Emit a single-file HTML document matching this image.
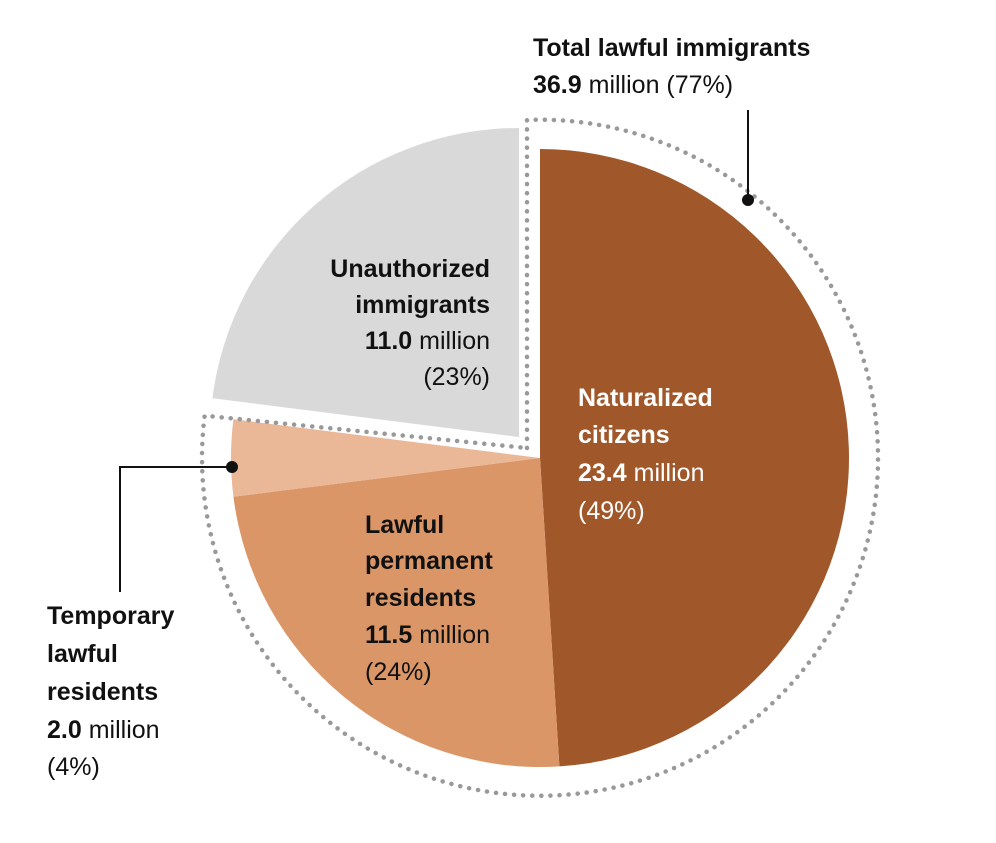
<!DOCTYPE html>
<html><head><meta charset="utf-8"><style>
body{margin:0;background:#fff;width:996px;height:838px;overflow:hidden}
svg text{font-family:"Liberation Sans",sans-serif;font-size:25px;fill:#111}
.b{font-weight:bold}
.w{fill:#fff}
</style></head><body>
<svg id="c" width="996" height="838" viewBox="0 0 996 838">
<g id="slices"></g>
<path id="dotted" fill="none" stroke="#999" stroke-width="4.5" stroke-dasharray="0.1 9" stroke-linecap="round"/>
<g>
<line x1="748" y1="110" x2="748" y2="200" stroke="#111" stroke-width="2"/>
<circle cx="748" cy="200" r="6" fill="#111"/>
<text x="533" y="56" class="b">Total lawful immigrants</text>
<text x="533" y="93"><tspan class="b">36.9</tspan> million (77%)</text>
</g>
<g>
<polyline points="232,467 120,467 120,592" fill="none" stroke="#111" stroke-width="2"/>
<circle cx="232" cy="467" r="6" fill="#111"/>
<text x="47" y="624" class="b">Temporary</text>
<text x="47" y="662" class="b">lawful</text>
<text x="47" y="700" class="b">residents</text>
<text x="47" y="738"><tspan class="b">2.0</tspan> million</text>
<text x="47" y="775">(4%)</text>
</g>
<g text-anchor="end">
<text x="490" y="277" class="b">Unauthorized</text>
<text x="490" y="313" class="b">immigrants</text>
<text x="490" y="349"><tspan class="b">11.0</tspan> million</text>
<text x="490" y="385">(23%)</text>
</g>
<g>
<text x="578" y="406" class="b w">Naturalized</text>
<text x="578" y="443" class="b w">citizens</text>
<text x="578" y="481" class="w"><tspan class="b">23.4</tspan> million</text>
<text x="578" y="519" class="w">(49%)</text>
</g>
<g>
<text x="365" y="533" class="b">Lawful</text>
<text x="365" y="569" class="b">permanent</text>
<text x="365" y="606" class="b">residents</text>
<text x="365" y="643"><tspan class="b">11.5</tspan> million</text>
<text x="365" y="680">(24%)</text>
</g>
</svg>
<script>
const categories=["naturalized-citizens","lawful-permanent-residents","temporary-lawful-residents","unauthorized-immigrants"];
const values=[49,24,4,23];
const colors=["#a0582a","#db9667","#eab797","#d9d9d9"];
const cx=540,cy=458,r=309;
const g=document.getElementById('slices');
const total=values.reduce((a,b)=>a+b,0);
function pt(a,rad,ox,oy){return [ox+rad*Math.sin(a),oy-rad*Math.cos(a)];}
let start=0;let lawfulEnd=0;
values.forEach((v,i)=>{
  const end=start+v/total*2*Math.PI;
  let ox=cx,oy=cy;
  if(i===3){ox=cx-21;oy=cy-21;}
  const p0=pt(start,r,ox,oy),p1=pt(end,r,ox,oy);
  const large=(end-start)>Math.PI?1:0;
  const p=document.createElementNS('http://www.w3.org/2000/svg','path');
  p.setAttribute('d',`M${ox},${oy}L${p0[0]},${p0[1]}A${r},${r} 0 ${large} 1 ${p1[0]},${p1[1]}Z`);
  p.setAttribute('fill',colors[i]);
  
  
  g.appendChild(p);
  if(i===2)lawfulEnd=end;
  start=end;
});
const rd=338;
const e=pt(lawfulEnd,rd,cx,cy);
const big=lawfulEnd>Math.PI?1:0;
document.getElementById('dotted').setAttribute('d',`M527,448L527,${cy-rd}A${rd},${rd} 0 ${big} 1 ${e[0]},${e[1]}L527,448`);
</script>
</body></html>
